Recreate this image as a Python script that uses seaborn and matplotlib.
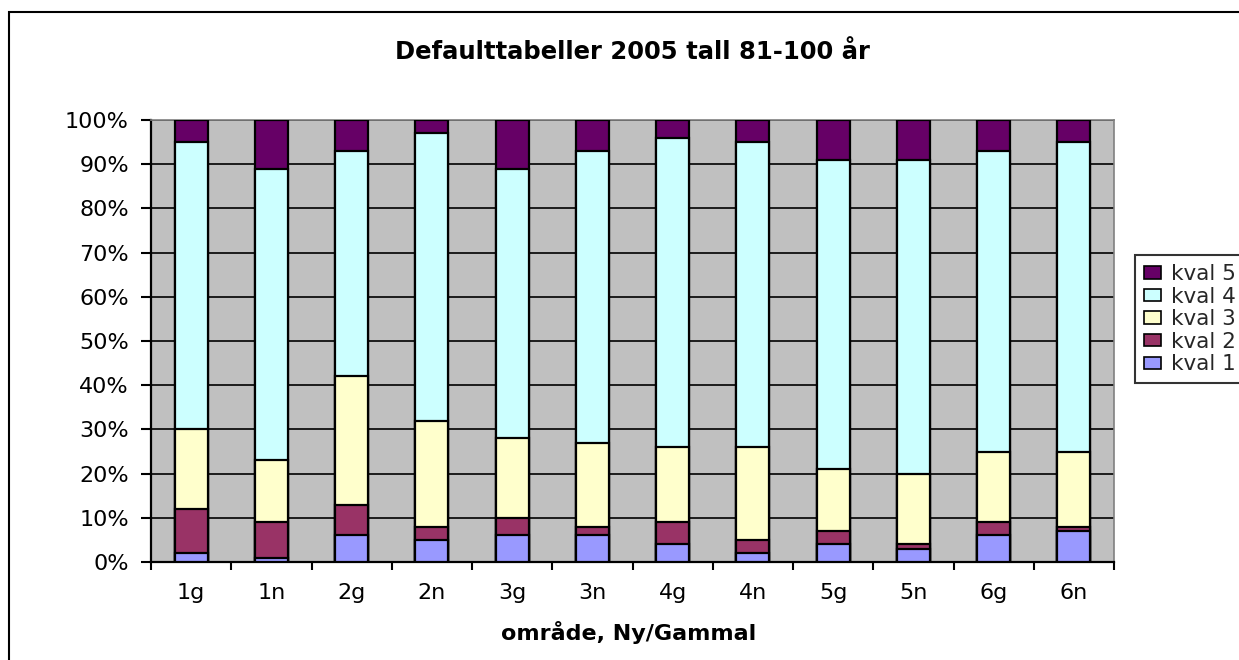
import numpy as np
import pandas as pd
import matplotlib
matplotlib.use("Agg")
import matplotlib.pyplot as plt
import seaborn as sns
from matplotlib.patches import Patch, Rectangle
from matplotlib.ticker import FixedLocator, PercentFormatter

categories = ["1g", "1n", "2g", "2n", "3g", "3n", "4g", "4n", "5g", "5n", "6g", "6n"]
kval1 = [2, 1, 6, 5, 6, 6, 4, 2, 4, 3, 6, 7]
kval2 = [10, 8, 7, 3, 4, 2, 5, 3, 3, 1, 3, 1]
kval3 = [18, 14, 29, 24, 18, 19, 17, 21, 14, 16, 16, 17]
kval4 = [65, 66, 51, 65, 61, 66, 70, 69, 70, 71, 68, 70]
kval5 = [5, 11, 7, 3, 11, 7, 4, 5, 9, 9, 7, 5]
series_names = ["kval 1", "kval 2", "kval 3", "kval 4", "kval 5"]
series_colors = ["#9999FF", "#993366", "#FFFFCC", "#CCFFFF", "#660066"]
title = "Defaulttabeller 2005 tall 81-100 år"
xlabel = "område, Ny/Gammal"

sns.set_theme(style="white")
plt.rcParams["font.family"] = ["DejaVu Sans"]

W, H = 1239, 660
fig = plt.figure(figsize=(W / 100, H / 100), dpi=100)
fig.patch.set_facecolor("white")

# outer chart border (left and top visible)
fig.add_artist(Rectangle((9 / W, -0.2), 1.5, (1 - 12 / H) + 0.2,
                         transform=fig.transFigure, facecolor="none",
                         edgecolor="black", linewidth=1.5))

left, right, top, bottom = 151, 1114, 120, 562
ax = fig.add_axes([left / W, 1 - bottom / H, (right - left) / W, (bottom - top) / H])
ax.set_facecolor("#C0C0C0")

df = pd.DataFrame({"cat": categories, "k1": kval1, "k2": kval2, "k3": kval3,
                   "k4": kval4, "k5": kval5})
vals = df[["k1", "k2", "k3", "k4", "k5"]].to_numpy(dtype=float)
tot = vals.sum(axis=1, keepdims=True)
cum = np.cumsum(vals / tot * 100, axis=1)

for i in range(4, -1, -1):
    sns.barplot(x=df["cat"], y=cum[:, i], color=series_colors[i], saturation=1,
                edgecolor="black", linewidth=1.6, width=0.41, ax=ax, zorder=3)

ax.set_xlim(-0.5, len(categories) - 0.5)
ax.set_ylim(0, 100)
ax.yaxis.set_major_locator(FixedLocator(np.arange(0, 101, 10)))
ax.yaxis.set_major_formatter(PercentFormatter(decimals=0))
ax.grid(axis="y", color="black", linewidth=1.2, zorder=0)
ax.grid(axis="x", visible=False)
ax.set_axisbelow(True)

# x ticks at category boundaries, labels at centers
ax.set_xticks(np.arange(-0.5, len(categories), 1.0))
ax.set_xticklabels([])
ax.set_xticks(np.arange(len(categories)), minor=True)
ax.set_xticklabels(categories, minor=True)
ax.tick_params(axis="x", which="major", length=6, width=1.5, color="black", direction="out", bottom=True)
ax.tick_params(axis="x", which="minor", length=0, labelsize=16, pad=15, colors="black")
ax.tick_params(axis="y", which="major", length=7, width=1.5, color="black", direction="out",
               left=True, labelsize=16, pad=9, labelcolor="black")

for s in ["left", "bottom"]:
    ax.spines[s].set_color("black")
    ax.spines[s].set_linewidth(1.6)
ax.spines["top"].set_color("#808080")
ax.spines["top"].set_linewidth(1.2)
ax.spines["right"].set_color("#808080")
ax.spines["right"].set_linewidth(1.2)
ax.set_xlabel("")
ax.set_ylabel("")

fig.text(632 / W, 1 - 52 / H, title, ha="center", va="center", fontsize=17.5,
         fontweight="bold", color="black")
fig.text(629 / W, 1 - 632 / H, xlabel, ha="center", va="center", fontsize=16,
         fontweight="bold", color="black")

handles = [Patch(facecolor=series_colors[i], edgecolor="black", linewidth=1.2,
                 label=series_names[i]) for i in range(4, -1, -1)]
leg = fig.legend(handles=handles, loc="upper left", bbox_to_anchor=(1135 / W, 1 - 255 / H),
                 bbox_transform=fig.transFigure, fontsize=15.5, frameon=True, fancybox=False,
                 handlelength=0.78, handleheight=0.5, handletextpad=0.45, labelspacing=0.12,
                 borderpad=0.42, borderaxespad=0)
leg.get_frame().set_edgecolor("black")
leg.get_frame().set_linewidth(1.5)
leg.get_frame().set_facecolor("white")

fig.savefig("out.png", dpi=100)
